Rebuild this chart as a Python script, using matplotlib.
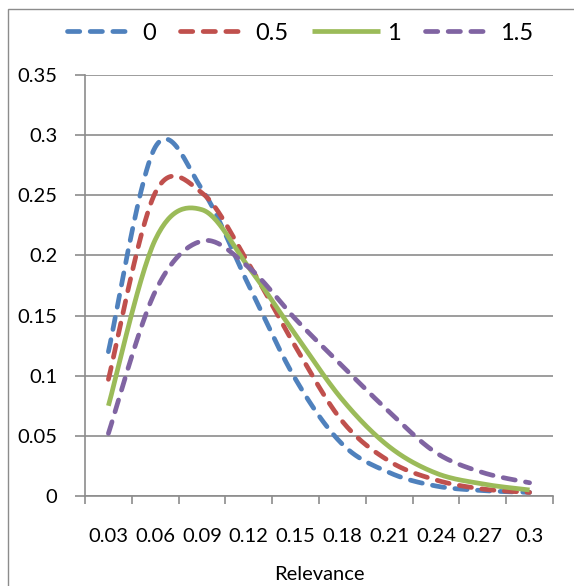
import numpy as np
import matplotlib
matplotlib.use("Agg")
from matplotlib import pyplot as plt
from matplotlib.patches import Rectangle

# categories on the x axis (relevance)
relevance = [0.03, 0.06, 0.09, 0.12, 0.15, 0.18, 0.21, 0.24, 0.27, 0.3]
x_labels = ["0.03", "0.06", "0.09", "0.12", "0.15", "0.18", "0.21", "0.24", "0.27", "0.3"]

# one series per parameter value
series_names = ["0", "0.5", "1", "1.5"]
vals_0 = [0.12, 0.29, 0.255, 0.175, 0.097, 0.043, 0.0195, 0.0083, 0.0045, 0.003]
vals_05 = [0.097, 0.252, 0.252, 0.193, 0.124, 0.062, 0.029, 0.0133, 0.0058, 0.003]
vals_1 = [0.075, 0.213, 0.238, 0.19, 0.134, 0.08, 0.041, 0.019, 0.01, 0.005]
vals_15 = [0.052, 0.17, 0.212, 0.19, 0.147, 0.108, 0.07, 0.036, 0.0195, 0.011]

y_ticks = [0, 0.05, 0.1, 0.15, 0.2, 0.25, 0.3, 0.35]
y_labels = ["0", "0.05", "0.1", "0.15", "0.2", "0.25", "0.3", "0.35"]

colors = ["#4F81BD", "#C0504D", "#9BBB59", "#8064A2"]
dashed = [True, True, False, True]
grid_col = "#8C8C8C"


def smooth(y, n=30):
    # excel-like smoothed line: bezier through points, catmull-rom tangents
    y = np.asarray(y, dtype=float)
    x = np.arange(len(y), dtype=float)
    px = np.concatenate([[x[0]], x, [x[-1]]])
    py = np.concatenate([[y[0]], y, [y[-1]]])
    xs, ys = [], []
    t = np.linspace(0, 1, n)
    for i in range(len(y) - 1):
        p0 = np.array([px[i + 1], py[i + 1]])
        p3 = np.array([px[i + 2], py[i + 2]])
        c1 = p0 + (p3 - np.array([px[i], py[i]])) / 6.0
        c2 = p3 - (np.array([px[i + 3], py[i + 3]]) - p0) / 6.0
        b = ((1 - t) ** 3)[:, None] * p0 + (3 * (1 - t) ** 2 * t)[:, None] * c1 \
            + (3 * (1 - t) * t ** 2)[:, None] * c2 + (t ** 3)[:, None] * p3
        xs.append(b[:, 0])
        ys.append(b[:, 1])
    return np.concatenate(xs), np.concatenate(ys)


plt.rcParams["font.family"] = ["Lato", "DejaVu Sans"]

fig = plt.figure(figsize=(5.74, 5.86), dpi=100)
fig.patches.append(Rectangle((8 / 574, -0.1), 1.2, 1 - 9 / 586 + 0.1,
                             transform=fig.transFigure, fill=False,
                             edgecolor=grid_col, linewidth=1.0))

ax = fig.add_axes([85 / 574, 90 / 586, 468 / 574, 421 / 586])

handles = []
for vals, name, col, ds in zip([vals_0, vals_05, vals_1, vals_15], series_names, colors, dashed):
    xs, ys = smooth(vals)
    if ds:
        ln, = ax.plot(xs, ys, color=col, lw=3.4, linestyle=(0, (2.6, 2.2)),
                      dash_capstyle="round", label=name)
    else:
        ln, = ax.plot(xs, ys, color=col, lw=3.4, solid_capstyle="butt", label=name)
    handles.append(ln)

ax.set_xlim(-0.5, len(relevance) - 0.5)
ax.set_ylim(0, 0.35)

# category axis: tick marks between categories, labels at the centres
ax.set_xticks(np.arange(len(relevance) + 1) - 0.5)
ax.set_xticklabels([])
ax.set_xticks(np.arange(len(relevance)), minor=True)
ax.set_xticklabels(x_labels, minor=True, fontsize=14.5)
ax.tick_params(axis="x", which="major", direction="out", length=6,
               width=1.2, color=grid_col)
ax.tick_params(axis="x", which="minor", length=0, pad=23)

ax.set_yticks(y_ticks)
ax.set_yticklabels(y_labels, fontsize=14.5)
ax.tick_params(axis="y", direction="out", length=7, width=1.2,
               color=grid_col, pad=13)

ax.grid(axis="y", color=grid_col, linewidth=1.2)
ax.set_axisbelow(True)
for side in ["top", "right"]:
    ax.spines[side].set_visible(False)
for side in ["left", "bottom"]:
    ax.spines[side].set_color(grid_col)
    ax.spines[side].set_linewidth(1.2)

ax.set_xlabel("Relevance", fontsize=14.5, labelpad=15)

fig.legend(handles=handles, loc="center", bbox_to_anchor=(300 / 574, 1 - 33 / 586),
           ncol=4, frameon=False, fontsize=17, handlelength=2.9,
           handletextpad=0.3, columnspacing=1.0)

fig.savefig("out.png", dpi=100)
